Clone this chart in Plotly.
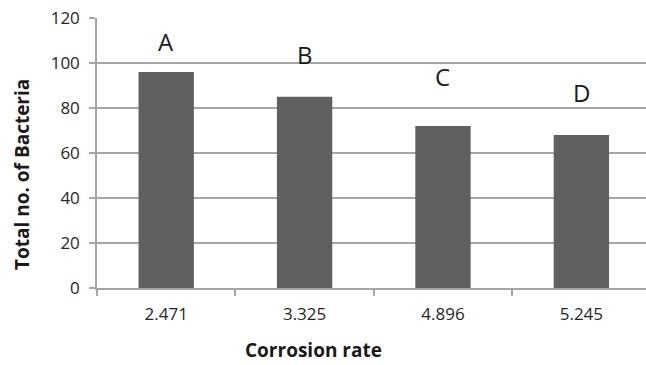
import plotly.graph_objects as go

categories = ["2.471", "3.325", "4.896", "5.245"]
bacteria = [96, 85, 72, 68]
letters = ["A", "B", "C", "D"]
letter_y = [109.5, 104, 94, 87]
y_ticks = [0, 20, 40, 60, 80, 100, 120]

FONT = "Open Sans"
GRID = "#a6a6a6"
TXT = "#1a1a1a"

fig = go.Figure()
fig.add_trace(go.Bar(
    x=categories, y=bacteria, width=0.4,
    marker=dict(color="#606060", line=dict(width=0)),
    showlegend=False,
))

for i, (l, yy) in enumerate(zip(letters, letter_y)):
    fig.add_annotation(x=i, y=yy, text=l, showarrow=False,
                       font=dict(family=FONT, size=24, color=TXT),
                       xref="x", yref="y")

L, R, T, B = 97, 0, 18, 77
W, H = 646, 365
plot_w = W - L - R
plot_h = H - T - B

fig.add_annotation(text="<b>Corrosion rate</b>",
                   x=(313 - L) / plot_w, y=(H - B - 350) / plot_h,
                   xref="paper", yref="paper", showarrow=False,
                   xanchor="center", yanchor="middle",
                   font=dict(family=FONT, size=19, color=TXT))

fig.add_annotation(text="<b>Total no. of Bacteria</b>", textangle=-90,
                   x=(22 - L) / plot_w, y=(H - B - 175) / plot_h,
                   xref="paper", yref="paper", showarrow=False,
                   xanchor="center", yanchor="middle",
                   font=dict(family=FONT, size=19, color=TXT))

fig.update_layout(
    width=W, height=H,
    margin=dict(l=L, r=R, t=T, b=B),
    paper_bgcolor="white", plot_bgcolor="white",
)

fig.update_xaxes(
    type="category", range=[-0.5, 3.467],
    showline=True, linecolor=GRID, linewidth=1.5,
    ticks="outside", tickson="boundaries", ticklen=6, tickcolor=GRID, tickwidth=1.5,
    tickfont=dict(family=FONT, size=17, color="#262626"),
    ticklabelstandoff=10,
    showgrid=False,
)
fig.update_yaxes(
    range=[0, 120], tickvals=y_ticks,
    showline=True, linecolor=GRID, linewidth=1.5,
    ticks="outside", ticklen=6, tickcolor=GRID, tickwidth=1.5,
    tickfont=dict(family=FONT, size=17, color="#262626"),
    ticklabelstandoff=6,
    showgrid=True, gridcolor=GRID, gridwidth=1.5,
    zeroline=False,
)

fig.write_html("out.html")
